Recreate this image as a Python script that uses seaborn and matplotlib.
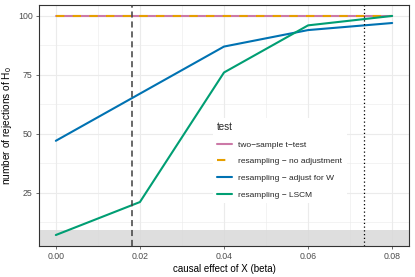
import numpy as np
import pandas as pd
import matplotlib
matplotlib.use("Agg")
import matplotlib.pyplot as plt
import seaborn as sns

# ---- data ----
beta = [0.00, 0.02, 0.04, 0.06, 0.08]
tests = ["two\u2212sample t\u2212test",
         "resampling \u2212 no adjustment",
         "resampling \u2212 adjust for W",
         "resampling \u2212 LSCM"]
ttest = [100, 100, 100, 100, 100]
resamp_noadj = [100, 100, 100, 100, 100]
resamp_adjW = [47, 67, 87, 94, 97]
resamp_lscm = [7, 21, 76, 96, 100]
colors = ["#CC79A7", "#E69F00", "#0072B2", "#009E73"]
vline_dashed = 0.0181
vline_dotted = 0.0732
null_band_top = 9

df = pd.DataFrame({
    "beta": beta * 4,
    "rejections": ttest + resamp_noadj + resamp_adjW + resamp_lscm,
    "test": sum([[t] * len(beta) for t in tests], []),
})

sns.set_theme(style="white")
plt.rcParams["font.family"] = ["Liberation Sans", "DejaVu Sans"]
plt.rcParams["mathtext.fontset"] = "custom"
plt.rcParams["mathtext.rm"] = "Liberation Sans"
plt.rcParams["mathtext.it"] = "Liberation Sans:italic"

fig = plt.figure(figsize=(4.15, 2.77), dpi=100)
ax = fig.add_axes([0.094, 0.112, 0.8915, 0.87])

# grid
ax.set_xticks([0.00, 0.02, 0.04, 0.06, 0.08])
ax.set_xticks([0.01, 0.03, 0.05, 0.07], minor=True)
ax.set_yticks([25, 50, 75, 100])
ax.set_yticks([12.5, 37.5, 62.5, 87.5], minor=True)
ax.grid(True, which="major", color="#EBEBEB", linewidth=0.8, zorder=0)
ax.grid(True, which="minor", color="#EBEBEB", linewidth=0.4, zorder=0)
ax.set_axisbelow(True)

ax.axhspan(-10, null_band_top, color="#D9D9D9", alpha=0.85, lw=0, zorder=1)

dashes = {tests[0]: "", tests[1]: (4, 4), tests[2]: "", tests[3]: ""}
sns.lineplot(data=df, x="beta", y="rejections", hue="test", style="test",
             hue_order=tests, style_order=tests, palette=colors,
             dashes=dashes, linewidth=1.5, ax=ax, zorder=3)

ax.axvline(vline_dashed, color="#404040", linestyle=(0, (4, 2.5)), linewidth=1.1, zorder=4)
ax.axvline(vline_dotted, color="black", linestyle=(0, (1, 2)), linewidth=0.9, zorder=4)

ax.set_xlim(-0.004, 0.084)
ax.set_ylim(2.35, 104.65)
ax.set_xticklabels(["0.00", "0.02", "0.04", "0.06", "0.08"])
ax.set_xlabel("causal effect of X (beta)", fontsize=7, color="black", labelpad=2)
ax.set_ylabel(r"number of rejections of H$_0$", fontsize=7.3, color="black", labelpad=3)
ax.tick_params(axis="both", which="major", labelsize=6.3, labelcolor="#4D4D4D",
               length=2.5, width=0.5, color="#333333", pad=2, bottom=True, left=True)
ax.tick_params(axis="both", which="minor", length=0)
for s in ax.spines.values():
    s.set_color("#333333")
    s.set_linewidth(0.8)

leg = ax.get_legend()
handles, labels = ax.get_legend_handles_labels()
leg.remove()
leg = ax.legend(handles, labels, title="test", loc="upper left",
                bbox_to_anchor=(0.458, 0.548), fontsize=6, title_fontsize=7,
                frameon=True, facecolor="white", edgecolor="none", framealpha=1,
                handlelength=1.8, labelspacing=1.05, handletextpad=0.8,
                borderpad=0.5, fancybox=False)
leg._legend_box.align = "left"
leg.set_zorder(5)

fig.savefig("out.png", dpi=100)
